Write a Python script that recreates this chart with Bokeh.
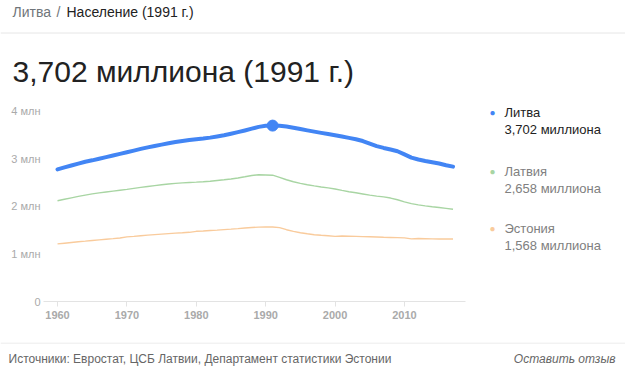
from bokeh.plotting import figure
from bokeh.models import (Range1d, Span, FixedTicker, CustomJSTickFormatter, LinearAxis)
from bokeh.layouts import column, row
from bokeh.core.properties import value
from bokeh.embed import file_html
from bokeh.resources import INLINE

# ---------------- data ----------------
years = list(range(1960, 2018))
lithuania = [2.779, 2.823, 2.863, 2.903, 2.942, 2.971, 3.004, 3.039, 3.074, 3.106,
             3.140, 3.175, 3.211, 3.244, 3.274, 3.302, 3.330, 3.356, 3.379, 3.398,
             3.413, 3.429, 3.449, 3.474, 3.500, 3.531, 3.565, 3.600, 3.638, 3.675,
             3.698, 3.702, 3.698, 3.682, 3.658, 3.629, 3.602, 3.575, 3.549, 3.524,
             3.500, 3.471, 3.443, 3.415, 3.377, 3.323, 3.270, 3.232, 3.198, 3.163,
             3.097, 3.028, 2.988, 2.958, 2.932, 2.905, 2.868, 2.838]
latvia = [2.121, 2.152, 2.182, 2.212, 2.240, 2.266, 2.286, 2.305, 2.323, 2.341,
          2.359, 2.380, 2.401, 2.420, 2.439, 2.456, 2.472, 2.486, 2.497, 2.506,
          2.512, 2.519, 2.530, 2.546, 2.562, 2.579, 2.600, 2.626, 2.653, 2.667,
          2.663, 2.658, 2.614, 2.563, 2.521, 2.485, 2.457, 2.433, 2.410, 2.391,
          2.368, 2.338, 2.310, 2.288, 2.263, 2.238, 2.218, 2.201, 2.177, 2.141,
          2.097, 2.060, 2.034, 2.013, 1.994, 1.978, 1.960, 1.942]
estonia = [1.212, 1.227, 1.242, 1.256, 1.270, 1.285, 1.298, 1.311, 1.323, 1.336,
           1.359, 1.371, 1.385, 1.397, 1.408, 1.419, 1.429, 1.439, 1.447, 1.456,
           1.477, 1.485, 1.494, 1.503, 1.513, 1.523, 1.534, 1.546, 1.558, 1.566,
           1.570, 1.568, 1.555, 1.511, 1.477, 1.448, 1.425, 1.406, 1.393, 1.383,
           1.370, 1.378, 1.374, 1.370, 1.366, 1.362, 1.357, 1.352, 1.348, 1.344,
           1.340, 1.318, 1.326, 1.322, 1.318, 1.315, 1.316, 1.316]
series_names = ["Литва", "Латвия", "Эстония"]
series_values_1991 = ["3,702 миллиона", "2,658 миллиона", "1,568 миллиона"]
highlight_year = [1991]
highlight_value = [3.702]
y_ticks = [0, 1, 2, 3, 4]
y_tick_labels = ["0", "1 млн", "2 млн", "3 млн", "4 млн"]
x_ticks = [1960, 1970, 1980, 1990, 2000, 2010]

title_text = "3,702 миллиона (1991 г.)"
crumb_a = "Литва"
crumb_b = "Население (1991 г.)"
footer_left = "Источники: Евростат, ЦСБ Латвии, Департамент статистики Эстонии"
footer_right = "Оставить отзыв"

FONT = "Liberation Sans"
BLUE = "#4285f4"
GREEN = "#a8d5a3"
ORANGE = "#f9cb9c"
W = 625


def blank(width, height, x0, x1, y0, y1):
    """A plain text panel whose ranges are in page pixels (y grows downwards)."""
    f = figure(width=width, height=height, output_backend="svg", toolbar_location=None,
               x_range=Range1d(x0, x1), y_range=Range1d(y1, y0),
               min_border=0, x_axis_type=None, y_axis_type=None)
    f.outline_line_color = None
    f.grid.visible = False
    f.background_fill_color = "white"
    f.border_fill_color = "white"
    return f


def txt(f, s, x, y, size, color, style="normal", align="left"):
    f.text(x=[x], y=[y], text=[s], text_font=value(FONT), text_font_size=size,
           text_color=color, text_font_style=style, text_baseline="middle",
           text_align=align)


# ---------------- header ----------------
head = blank(W, 100, 0, W, 0, 100)
txt(head, crumb_a, 12, 11, "14px", "#70757a")
txt(head, "/", 56, 11, "14px", "#70757a")
txt(head, crumb_b, 66, 11, "14px", "#222222")
txt(head, title_text, 12, 71, "30px", "#222222")
head.add_layout(Span(location=32.5, dimension="width", line_color="#e6e6e6", line_width=1))

# ---------------- main chart ----------------
MW, MH = 485, 242            # page area x 0..485, y 100..342
FL, FR, FT, FB = 43, 465, 5, 200.5
p = figure(width=MW, height=MH, output_backend="svg", toolbar_location=None,
           x_range=Range1d(1957.98, 2018.8), y_range=Range1d(0, 4.125),
           min_border_left=FL, min_border_right=MW - FR,
           min_border_top=FT, min_border_bottom=int(MH - FB),
           x_axis_type=None, y_axis_type=None)
p.outline_line_color = None
p.background_fill_color = "white"
p.border_fill_color = "white"

xa = LinearAxis(ticker=FixedTicker(ticks=x_ticks))
xa.axis_line_color = "#e3e3e3"
xa.major_tick_line_color = "#e3e3e3"
xa.major_tick_out = 5
xa.major_tick_in = 0
xa.minor_tick_line_color = None
xa.major_label_text_font = FONT
xa.major_label_text_font_size = "11px"
xa.major_label_text_font_style = "bold"
xa.major_label_text_color = "#aaaaaa"
xa.major_label_standoff = 4
p.add_layout(xa, "below")

ya = LinearAxis(ticker=FixedTicker(ticks=y_ticks),
                formatter=CustomJSTickFormatter(args=dict(m=y_tick_labels),
                                                code="return m[Math.round(tick)];"))
ya.axis_line_color = None
ya.major_tick_line_color = None
ya.minor_tick_line_color = None
ya.major_tick_out = 0
ya.major_tick_in = 0
ya.major_label_text_font = FONT
ya.major_label_text_font_size = "11px"
ya.major_label_text_color = "#aaaaaa"
ya.major_label_standoff = 3
p.add_layout(ya, "left")

p.ygrid.ticker = FixedTicker(ticks=y_ticks)
p.ygrid.grid_line_color = "#ebebeb"
p.xgrid.grid_line_color = None

p.line(years, estonia, line_color=ORANGE, line_width=1.4)
p.line(years, latvia, line_color=GREEN, line_width=1.4)
p.line(years, lithuania, line_color=BLUE, line_width=4, line_cap="round", line_join="round")
p.scatter(highlight_year, highlight_value, size=11, color=BLUE)

# ---------------- legend panel ----------------
# in a row, the panel's frame is aligned with the chart frame (page y 105..300.5)
leg = blank(W - MW, MH, MW, W, 100 + FT, 100 + FB)
dot_colors = [BLUE, GREEN, ORANGE]
name_colors = ["#222222", "#808080", "#808080"]
legend_y = [112, 171, 228]
for nm, val, dc, nc, ly in zip(series_names, series_values_1991, dot_colors, name_colors, legend_y):
    txt(leg, "●", 489, ly, "10px", dc)
    txt(leg, nm, 504, ly, "13px", nc)
    txt(leg, val, 504, ly + 17, "13px", nc)

# ---------------- footer ----------------
foot = blank(W, 27, 0, W, 342, 369)
foot.add_layout(Span(location=342.5, dimension="width", line_color="#e6e6e6", line_width=1))
txt(foot, footer_left, 8, 358, "12px", "#666666")
txt(foot, footer_right, 615, 358, "12px", "#666666", style="italic", align="right")

page = column(head, row(p, leg, spacing=0), foot, spacing=0)
open("out.html", "w").write(file_html(page, INLINE))
